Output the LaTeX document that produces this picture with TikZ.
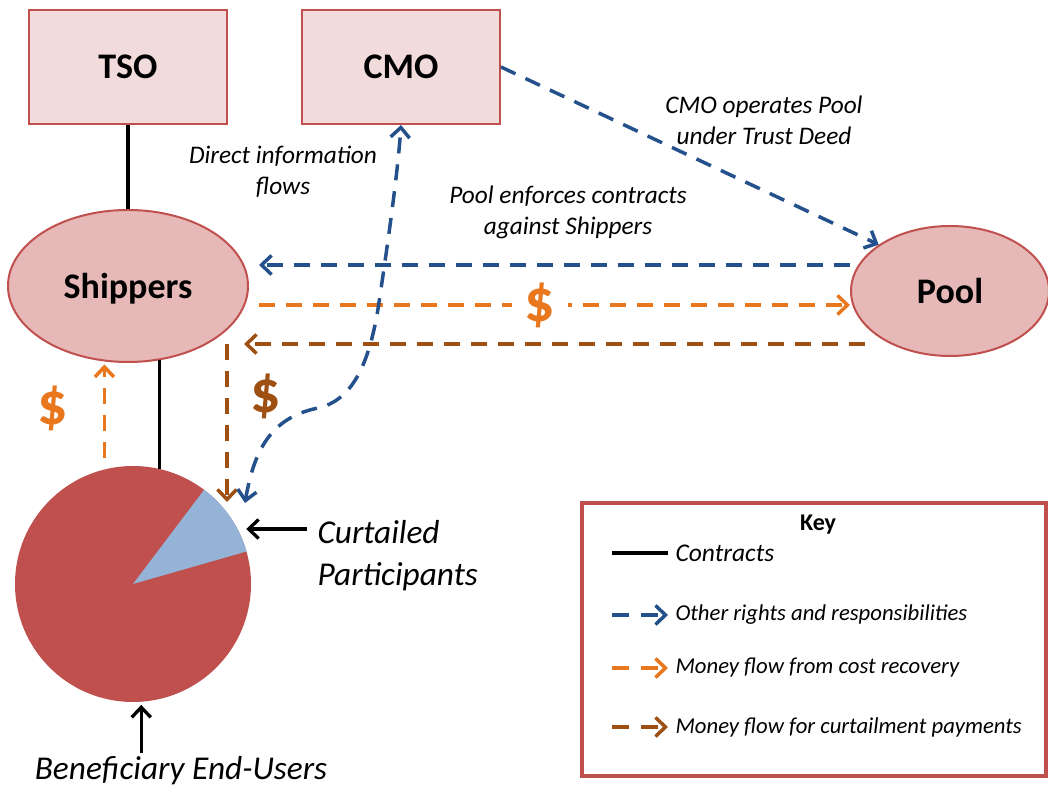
\documentclass[tikz,border=0pt]{standalone}
\usepackage{fontspec}
\setmainfont{Carlito}
\usetikzlibrary{shapes.geometric}
\usetikzlibrary{arrows.meta}
\usetikzlibrary{positioning}

\definecolor{boxfill}{HTML}{F2DCDB}
\definecolor{boxline}{HTML}{C0504D}
\definecolor{blobfill}{HTML}{E6B9B8}
\definecolor{pieRed}{HTML}{C0504D}
\definecolor{pieBlue}{HTML}{95B3D7}
\definecolor{infoBlue}{HTML}{24508C}
\definecolor{costOrange}{HTML}{E8771E}
\definecolor{payBrown}{HTML}{9E4F12}

\begin{document}
\begin{tikzpicture}[x=1pt,y=1pt]

\tikzset{
    box/.style={draw=boxline, line width=2pt, fill=boxfill, minimum width=198pt, minimum height=114pt, font=\bfseries\fontsize{36}{40}\selectfont},
    blob/.style={ellipse, draw=boxline, line width=2pt, fill=blobfill, inner sep=0pt, text depth=0pt, font=\bfseries\fontsize{36}{40}\selectfont},
    contract/.style={line width=3.8pt, black},
    blacktip/.style={-{Straight Barb[length=10pt,width=19pt]}, line width=3.3pt},
    flow/.style={line width=3.5pt, dash pattern=on 16pt off 11pt, -{Straight Barb[length=10pt,width=19pt]}},
    bluearrow/.style={flow, infoBlue},
    orangearrow/.style={flow, costOrange},
    brownarrow/.style={flow, payBrown},
    note/.style={align=center, font=\itshape\fontsize{25.3}{31}\selectfont},
    bignote/.style={font=\itshape\fontsize{33.3}{42}\selectfont},
    dollar/.style={font=\bfseries\fontsize{60}{62}\selectfont},
    keytext/.style={anchor=west, font=\itshape\fontsize{22.7}{26}\selectfont}
}

\useasboundingbox (0,0) rectangle (1048,789);

%top boxes
\node[box] (tso) at (128,722) {TSO};
\node[box] (cmo) at (401,722) {CMO};

%shippers and pool
\node[blob, minimum width=240pt, minimum height=152pt] (shippers) at (128,503) {Shippers};
\node[blob, minimum width=198pt, minimum height=130pt] (pool) at (950,498) {Pool};

%pie of end users
\node[circle, fill=pieRed, inner sep=0pt, minimum size=236pt] (users) at (133,205) {};
\fill[pieBlue] (users.center) -- (users.16) arc[start angle=16, end angle=53, radius=118pt] -- cycle;

%contracts
\draw[contract] (tso.south) -- (shippers.north);
\draw[contract] (users.77) -- (users.77 |- shippers.294);

%cost recovery from end users
\draw[orangearrow, shorten <=11pt, shorten >=3pt] (users.104) -- (users.104 |- shippers.252);
\node[dollar, costOrange] (costsign) at (53,381) {\$};

%flows between shippers and pool
\draw[bluearrow] ([yshift=26pt]pool.west) -- ([xshift=10pt,yshift=21pt]shippers.east);
\draw[orangearrow] ([xshift=10pt,yshift=-19pt]shippers.east) -- ([yshift=-14pt]pool.west);
\node[dollar, costOrange, fill=white, minimum width=56pt, inner ysep=0pt] (poolsign) at (540,484) {\$};

%curtailment payments
\coordinate (payturn) at ([xshift=-22pt,yshift=-58pt]shippers.east);
\coordinate[below=158pt of payturn] (payend);
\draw[brownarrow] ([xshift=15pt,yshift=-53pt]pool.west) -- ([xshift=17pt]payturn);
\draw[brownarrow] (payturn) -- (payend);
\node[dollar, payBrown] (paysign) at (266,393) {\$};

%CMO and pool
\draw[bluearrow] (cmo.east) -- (pool.147);

%direct information flows
\coordinate (infoend) at (245,286);
\draw[bluearrow, {Straight Barb[length=10pt,width=19pt]}-{Straight Barb[length=10pt,width=19pt]}] (infoend)
    .. controls (255,345) and (275,372) .. (318,381)
    .. controls (350,388) and (368,420) .. (378,480)
    .. controls (390,560) and (398,620) .. (cmo.south);

%labels
\node[note] (infolabel) at (283,617) {Direct information\\flows};
\node[note] (trustlabel) at (764,669) {CMO operates Pool\\under Trust Deed};
\node[note] (enforcelabel) at (568,577) {Pool enforces contracts\\against Shippers};

%curtailed participants
\node[bignote, anchor=west, align=left] (curtailed) at (314,233) {Curtailed\\Participants};
\coordinate (curtstart) at (307,260);
\draw[blacktip, shorten >=7pt] (curtstart) -- (users.26 |- curtstart);

%beneficiary end-users
\node[bignote] (beneficiary) at (181,18) {Beneficiary End-Users};
\draw[blacktip, shorten >=3pt] (users.274 |- beneficiary.north) -- (users.274);

%key
\node[draw=boxline, line width=3.5pt, minimum width=464pt, minimum height=273pt] (keybox) at (814,149.5) {};
\node[font=\bfseries\fontsize{24}{28}\selectfont] (keytitle) at (818,264) {Key};
\node[keytext, font=\itshape\fontsize{25.5}{30}\selectfont] (keycontracts) at (672,236) {Contracts};
\draw[contract] ([xshift=-60pt]keycontracts.west) -- ([xshift=-4pt]keycontracts.west);
\foreach \sty/\txt/\yy in {bluearrow/Other rights and responsibilities/174,
    orangearrow/Money flow from cost recovery/121,
    brownarrow/Money flow for curtailment payments/62}{
  \node[keytext] (key\yy) at (672,\yy) {\txt};
  \draw[\sty, dash pattern=on 17pt off 12pt] ([xshift=-60pt]key\yy.west) -- ([xshift=-4pt]key\yy.west);
}

\end{tikzpicture}
\end{document}
